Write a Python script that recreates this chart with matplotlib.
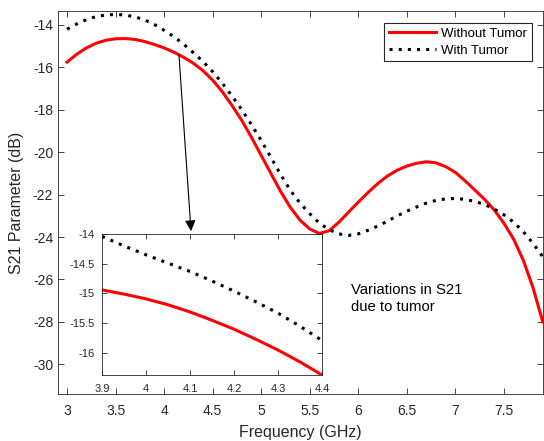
import numpy as np
import matplotlib
matplotlib.use('Agg')
import matplotlib.pyplot as plt

plt.rcParams['font.family'] = ['Liberation Sans', 'DejaVu Sans']
plt.rcParams['axes.unicode_minus'] = False

# frequency grid (GHz) and S21 (dB)
freq = [3.0, 3.1, 3.2, 3.3, 3.4, 3.5, 3.6, 3.7, 3.8, 3.9,
        4.0, 4.1, 4.2, 4.3, 4.4, 4.5, 4.6, 4.7, 4.8, 4.9,
        5.0, 5.1, 5.2, 5.3, 5.4, 5.5, 5.6, 5.7, 5.8, 5.9,
        6.0, 6.1, 6.2, 6.3, 6.4, 6.5, 6.6, 6.7, 6.8, 6.9,
        7.0, 7.1, 7.2, 7.3, 7.4, 7.5, 7.6, 7.7, 7.8, 7.9]
s21_without = [-15.75, -15.38, -15.08, -14.86, -14.72, -14.65, -14.64, -14.68, -14.78, -14.92,
               -15.08, -15.28, -15.52, -15.80, -16.15, -16.60, -17.15, -17.80, -18.50, -19.30,
               -20.15, -21.00, -21.85, -22.60, -23.20, -23.62, -23.83, -23.70, -23.30, -22.82,
               -22.35, -21.90, -21.48, -21.12, -20.85, -20.65, -20.52, -20.45, -20.50, -20.68,
               -20.95, -21.35, -21.78, -22.22, -22.72, -23.35, -24.10, -25.10, -26.40, -28.00]
s21_with = [-14.20, -13.95, -13.75, -13.60, -13.53, -13.50, -13.53, -13.62, -13.76, -13.98,
            -14.25, -14.55, -14.90, -15.30, -15.72, -16.20, -16.75, -17.35, -18.00, -18.70,
            -19.45, -20.25, -21.05, -21.80, -22.40, -22.90, -23.35, -23.65, -23.85, -23.92,
            -23.85, -23.68, -23.48, -23.25, -23.00, -22.78, -22.58, -22.40, -22.27, -22.20,
            -22.18, -22.22, -22.32, -22.46, -22.68, -22.95, -23.30, -23.75, -24.30, -24.93]

# zoomed view 3.9 - 4.4 GHz
zoom_freq = [3.9, 3.95, 4.0, 4.05, 4.1, 4.15, 4.2, 4.25, 4.3, 4.35, 4.4]
zoom_without = [-14.94, -15.01, -15.09, -15.19, -15.31, -15.45, -15.60, -15.77, -15.95, -16.15, -16.37]
zoom_with = [-14.04, -14.20, -14.35, -14.49, -14.63, -14.79, -14.96, -15.14, -15.33, -15.55, -15.79]

fg = '#262626'
red = '#ff0000'

fig = plt.figure(figsize=(5.44, 4.41), dpi=100)
ax = fig.add_axes([58/544, 1-394/441, 485/544, 383/441])
ax.plot(freq, s21_without, color=red, lw=2.2, label='Without Tumor')
ax.plot(freq, s21_with, color='k', lw=2.2, ls=(0, (1, 2)), label='With Tumor')
ax.set_xlim(2.907, 7.902)
ax.set_ylim(-31.4, -13.34)
ax.set_xticks(np.arange(3, 7.6, 0.5))
ax.set_xticklabels(['3', '3.5', '4', '4.5', '5', '5.5', '6', '6.5', '7', '7.5'])
ax.set_yticks(np.arange(-30, -13, 2))
ax.tick_params(direction='in', top=True, right=True, length=4, width=0.6,
               labelsize=10, colors=fg)
ax.tick_params(axis='x', pad=7.5)
ax.tick_params(axis='y', pad=3.5)
for s in ax.spines.values():
    s.set_color(fg)
    s.set_linewidth(0.6)
ax.set_xlabel('Frequency (GHz)', fontsize=11.5, color=fg, labelpad=5)
ax.set_ylabel('S21 Parameter (dB)', fontsize=11.5, color=fg, labelpad=6)

leg = ax.legend(loc='upper right', bbox_to_anchor=(0.9773, 0.9687), borderaxespad=0,
                fancybox=False, framealpha=1, edgecolor=fg, fontsize=9.5,
                handlelength=3.6, handletextpad=0.4, borderpad=0.35, labelspacing=0.35)
leg.get_frame().set_linewidth(0.8)

ax.annotate('', xy=(4.277, -23.72), xytext=(4.153, -15.42),
            arrowprops=dict(arrowstyle='-|>', color='k', lw=0.8, mutation_scale=16,
                            shrinkA=0, shrinkB=0))
ax.text(5.925, -26.15, 'Variations in S21\ndue to tumor', fontsize=10.7, color='k',
        va='top', ha='left', linespacing=1.3)

ins = fig.add_axes([102/544, 1-375/441, 220/544, 141/441])
ins.plot(zoom_freq, zoom_without, color=red, lw=2.2)
ins.plot(zoom_freq, zoom_with, color='k', lw=2.2, ls=(0, (1, 2)))
ins.set_xlim(3.9, 4.4)
ins.set_ylim(min(zoom_without), -14.0)
ins.set_xticks([3.9, 4.0, 4.1, 4.2, 4.3, 4.4])
ins.set_xticklabels(['3.9', '4', '4.1', '4.2', '4.3', '4.4'])
ins.set_yticks([-16, -15.5, -15, -14.5, -14])
ins.set_yticklabels(['-16', '-15.5', '-15', '-14.5', '-14'])
ins.tick_params(direction='in', top=True, right=True, length=3.5, width=0.6,
                labelsize=8, colors=fg)
ins.tick_params(axis='x', pad=6.5)
ins.tick_params(axis='y', pad=5)
for s in ins.spines.values():
    s.set_color(fg)
    s.set_linewidth(0.6)

fig.savefig('out.png', dpi=100)
